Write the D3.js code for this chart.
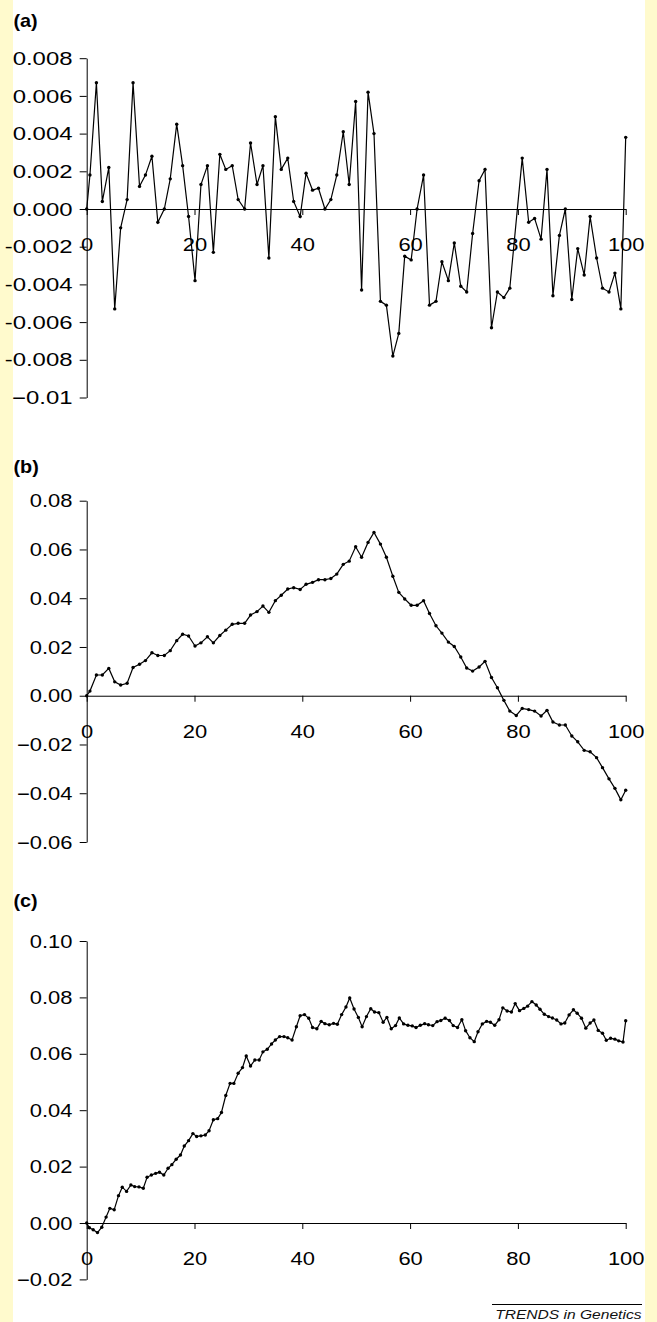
<!DOCTYPE html>
<html><head><meta charset="utf-8">
<script src="https://cdn.jsdelivr.net/npm/d3@7"></script>
<style>body{margin:0;background:#fff}svg{display:block}</style>
</head><body>
<script>
// ---------- data ----------
const xTicks = [0, 20, 40, 60, 80, 100];

const xA = [0,0.6,1.8,2.9,4.1,5.2,6.3,7.5,8.6,9.8,10.9,12.1,13.2,14.4,15.5,16.7,17.8,18.9,20.1,21.2,22.4,23.5,24.7,25.8,27.0,28.1,29.3,30.4,31.6,32.7,33.8,35.0,36.1,37.3,38.4,39.6,40.7,41.9,43.0,44.2,45.3,46.4,47.6,48.7,49.9,51.0,52.2,53.3,54.5,55.6,56.8,57.9,59.0,60.2,61.3,62.5,63.6,64.8,65.9,67.1,68.2,69.4,70.5,71.6,72.8,73.9,75.1,76.2,77.4,78.5,80.8,82.0,83.1,84.3,85.4,86.5,87.7,88.8,90.0,91.1,92.3,93.4,94.6,95.7,96.9,98.0,99.1,100];
const yA = [0,0.0018,0.0067,0.0004,0.0022,-0.0053,-0.0010,0.0005,0.0067,0.0012,
0.0018,0.0028,-0.0007,0.0000,0.0016,0.0045,0.0023,-0.0004,-0.0038,0.0013,
0.0023,-0.0023,0.0029,0.0021,0.0023,0.0005,0.0000,0.0035,0.0013,0.0023,
-0.0026,0.0049,0.0021,0.0027,0.0004,-0.0004,0.0019,0.0010,0.0011,0.0000,
0.0005,0.0018,0.0041,0.0013,0.0057,-0.0043,0.0062,0.0040,-0.0049,-0.0051,
-0.0078,-0.0066,-0.0025,-0.0027,0.0000,0.0018,-0.0051,-0.0049,-0.0028,-0.0038,
-0.0018,-0.0041,-0.0044,-0.0013,0.0015,0.0021,-0.0063,-0.0044,-0.0047,-0.0042,
0.0027,-0.0007,-0.0005,-0.0016,0.0021,-0.0046,-0.0014,0.0000,-0.0048,-0.0021,
-0.0035,-0.0004,-0.0026,-0.0042,-0.0044,-0.0034,-0.0053,0.0038];

const xB = [0,0.6,1.8,2.9,4.1,5.2,6.3,7.5,8.6,9.8,10.9,12.1,13.2,14.4,15.5,16.7,17.8,18.9,20.1,21.2,22.4,23.5,24.7,25.8,27.0,28.1,29.3,30.4,31.6,32.7,33.8,35.0,36.1,37.3,38.4,39.6,40.7,41.9,43.0,44.2,45.3,46.4,47.6,48.7,49.9,51.0,52.2,53.3,54.5,55.6,56.8,57.9,59.0,60.2,61.3,62.5,63.6,64.8,65.9,67.1,68.2,69.4,70.5,71.6,72.8,73.9,75.1,76.2,77.4,78.5,79.7,80.8,82.0,83.1,84.3,85.4,86.5,87.7,88.8,90.0,91.1,92.3,93.4,94.6,95.7,96.9,98.0,99.1,100];
const yB = [0,0.0019,0.0085,0.0085,0.0112,0.0057,0.0044,0.0051,0.0116,0.0129,
0.0144,0.0176,0.0165,0.0165,0.0185,0.0226,0.0252,0.0245,0.0204,0.0217,
0.0242,0.0217,0.0247,0.0269,0.0293,0.0297,0.0297,0.0331,0.0345,0.0368,
0.0342,0.0390,0.0412,0.0438,0.0443,0.0436,0.0457,0.0465,0.0476,0.0476,
0.0481,0.0499,0.0539,0.0552,0.0611,0.0568,0.0629,0.0670,0.0622,0.0568,
0.0490,0.0424,0.0397,0.0371,0.0371,0.0390,0.0337,0.0287,0.0257,0.0220,
0.0202,0.0159,0.0114,0.0101,0.0118,0.0141,0.0075,0.0033,-0.0019,-0.0063,
-0.0081,-0.0052,-0.0057,-0.0063,-0.0083,-0.0060,-0.0108,-0.0120,-0.0120,-0.0165,
-0.0189,-0.0224,-0.0230,-0.0254,-0.0295,-0.0341,-0.0380,-0.0427,-0.0388];

const xC = [0,0.5,1.2,2.0,2.8,3.6,4.3,5.1,5.9,6.6,7.4,8.2,8.9,9.7,10.5,11.2,12.0,12.8,13.5,14.3,
15.1,15.8,16.6,17.4,18.1,18.9,19.7,20.4,21.2,22.0,22.7,23.5,24.3,25.0,25.8,26.6,27.3,28.1,28.9,29.6,
30.4,31.2,32.0,32.7,33.5,34.3,35.0,35.8,36.6,37.3,38.1,38.9,39.6,40.4,41.2,41.9,42.7,43.5,44.2,45.0,
45.8,46.5,47.3,48.1,48.8,49.6,50.4,51.1,51.9,52.7,53.4,54.2,55.0,55.7,56.5,57.3,58.0,58.8,59.6,60.4,
61.1,61.9,62.7,63.4,64.2,65.0,65.7,66.5,67.3,68.0,68.8,69.6,70.3,71.1,71.9,72.6,73.4,74.2,74.9,75.7,
76.5,77.2,78.0,78.8,79.5,80.3,81.1,81.8,82.6,83.4,84.1,84.9,85.7,86.4,87.2,88.0,88.7,89.5,90.3,91.0,
91.8,92.6,93.4,94.1,94.9,95.7,96.4,97.2,98.0,98.7,99.5,100];
const yC = [0,-0.0017,-0.0024,-0.0034,-0.0015,0.0021,0.0052,0.0047,0.0097,0.0127,
0.0112,0.0135,0.0129,0.0128,0.0123,0.0162,0.0170,0.0176,0.0180,0.0170,
0.0194,0.0207,0.0226,0.0241,0.0273,0.0292,0.0317,0.0307,0.0309,0.0312,
0.0327,0.0366,0.0370,0.0392,0.0452,0.0495,0.0495,0.0531,0.0551,0.0592,
0.0557,0.0578,0.0578,0.0607,0.0616,0.0635,0.0649,0.0661,0.0661,0.0657,
0.0649,0.0696,0.0735,0.0739,0.0726,0.0693,0.0689,0.0715,0.0707,0.0703,
0.0708,0.0705,0.0739,0.0766,0.0798,0.0759,0.0729,0.0696,0.0732,0.0760,
0.0748,0.0746,0.0712,0.0729,0.0689,0.0700,0.0727,0.0706,0.0701,0.0699,
0.0693,0.0701,0.0707,0.0703,0.0700,0.0714,0.0718,0.0726,0.0718,0.0700,
0.0693,0.0721,0.0682,0.0657,0.0643,0.0678,0.0706,0.0715,0.0712,0.0701,
0.0721,0.0763,0.0752,0.0748,0.0778,0.0753,0.0761,0.0769,0.0785,0.0773,
0.0758,0.0740,0.0732,0.0727,0.0720,0.0706,0.0709,0.0738,0.0756,0.0744,
0.0726,0.0691,0.0709,0.0720,0.0683,0.0673,0.0648,0.0655,0.0652,0.0646,
0.0642,0.0717];

const aTicks = [0.008,0.006,0.004,0.002,0,-0.002,-0.004,-0.006,-0.008,-0.01];
const aLabels = ["0.008","0.006","0.004","0.002","0.000","-0.002","-0.004","-0.006","-0.008","\u22120.01"];
const bTicks = [0.08,0.06,0.04,0.02,0,-0.02,-0.04,-0.06];
const bLabels = ["0.08","0.06","0.04","0.02","0.00","\u22120.02","\u22120.04","\u22120.06"];
const cTicks = [0.10,0.08,0.06,0.04,0.02,0,-0.02];
const cLabels = ["0.10","0.08","0.06","0.04","0.02","0.00","\u22120.02"];

// ---------- drawing ----------
const W = 657, H = 1322;
const FONT = "'Liberation Sans', Arial, Helvetica, sans-serif";
const svg = d3.select("body").append("svg").attr("width", W).attr("height", H);
svg.append("rect").attr("width", W).attr("height", H).attr("fill", "#fff");
svg.append("rect").attr("x", 0).attr("y", 0).attr("width", 13).attr("height", H).attr("fill", "#fffacd");
svg.append("rect").attr("x", 645).attr("y", 0).attr("width", 12).attr("height", H).attr("fill", "#fffacd");

const x = d3.scaleLinear().domain([0, 100]).range([86.7, 625.7]);

const panels = [
  {label: "(a)", labelY: 27, xs: xA, ys: yA, domain: [-0.01, 0.008], range: [397.5, 58.2], ticks: aTicks, labels: aLabels, sx: 1.33},
  {label: "(b)", labelY: 473, xs: xB, ys: yB, domain: [-0.06, 0.08], range: [842, 500.7], ticks: bTicks, labels: bLabels, sx: 1.22},
  {label: "(c)", labelY: 907, xs: xC, ys: yC, domain: [-0.02, 0.10], range: [1279.4, 941], ticks: cTicks, labels: cLabels, sx: 1.22}
];

panels.forEach(p => {
  const y = d3.scaleLinear().domain(p.domain).range(p.range);
  const g = svg.append("g");

  // y axis
  const ya = g.append("g").attr("transform", `translate(${x(0)},0)`)
    .call(d3.axisLeft(y).tickValues(p.ticks).tickFormat((d, i) => p.labels[i]).tickSize(7).tickSizeOuter(0));
  ya.selectAll("text").attr("x", -14.2 / p.sx).attr("dy", "0.34em").attr("transform", `scale(${p.sx},1)`)
    .attr("font-family", FONT).attr("font-size", 18).attr("fill", "#000");

  // x axis at zero
  const xa = g.append("g").attr("transform", `translate(0,${y(0)})`)
    .call(d3.axisBottom(x).tickValues(xTicks).tickFormat(d3.format("d")).tickSize(6).tickSizeOuter(0));
  xa.selectAll("text").attr("y", 42).attr("dy", 0).attr("transform", "scale(1.22,1)")
    .attr("font-family", FONT).attr("font-size", 18).attr("fill", "#000");
  g.selectAll(".domain, .tick line").attr("stroke", "#000").attr("stroke-width", 1);

  // panel label
  g.append("text").attr("transform", `translate(13.5,${p.labelY}) scale(1.1,1)`)
    .attr("font-family", FONT).attr("font-size", 18).attr("font-weight", "bold").attr("fill", "#000")
    .text(p.label);

  // series
  const idx = d3.range(p.ys.length);
  const line = d3.line().x(i => x(p.xs[i])).y(i => y(p.ys[i]));
  g.append("path").datum(idx).attr("d", line).attr("fill", "none").attr("stroke", "#000").attr("stroke-width", 1.2);
  g.selectAll("circle.pt").data(idx).join("circle").attr("class", "pt")
    .attr("cx", i => x(p.xs[i])).attr("cy", i => y(p.ys[i])).attr("r", 1.7).attr("fill", "#000");
});

// credit
svg.append("line").attr("x1", 492).attr("x2", 642).attr("y1", 1304.5).attr("y2", 1304.5)
  .attr("stroke", "#000").attr("stroke-width", 1);
svg.append("text").attr("transform", "translate(641.5,1319) scale(1.2,1)")
  .attr("text-anchor", "end").attr("font-family", FONT).attr("font-size", 13).attr("font-style", "italic")
  .attr("fill", "#111").text("TRENDS in Genetics");
</script>
</body></html>
